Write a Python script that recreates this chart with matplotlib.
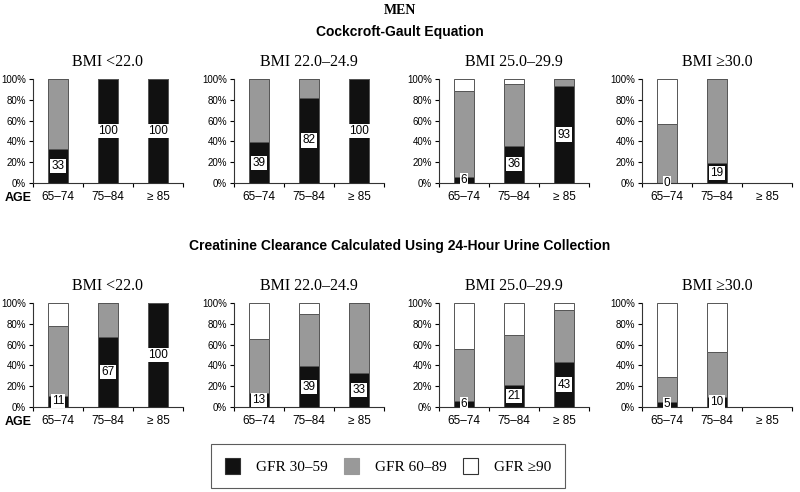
import matplotlib
matplotlib.use("Agg")
import matplotlib.pyplot as plt
from matplotlib.patches import Patch
import numpy as np

# ── Data (percent of patients per GFR band) ──────────────────────────────────
ages = ["65\u201374", "75\u201384", "\u2265 85"]
bmi_groups = ["BMI <22.0", "BMI 22.0\u201324.9", "BMI 25.0\u201329.9", "BMI \u226530.0"]

# Cockcroft-Gault equation
cg_black = [[33, 100, 100], [39, 82, 100], [6, 36, 93], [0, 19, np.nan]]
cg_gray = [[67, 0, 0], [61, 18, 0], [82, 59, 7], [57, 81, np.nan]]
cg_white = [[0, 0, 0], [0, 0, 0], [12, 5, 0], [43, 0, np.nan]]

# 24-hour urine collection
cc_black = [[11, 67, 100], [13, 39, 33], [6, 21, 43], [5, 10, np.nan]]
cc_gray = [[67, 33, 0], [52, 50, 67], [50, 48, 50], [24, 43, np.nan]]
cc_white = [[22, 0, 0], [35, 11, 0], [44, 31, 7], [71, 47, np.nan]]

W, H = 800, 492
BLACK, GRAY, WHITE = "#111111", "#999999", "#ffffff"
SERIF = ["Liberation Serif", "DejaVu Serif"]
SANS = ["Liberation Sans", "DejaVu Sans"]

fig = plt.figure(figsize=(W / 100, H / 100), dpi=100)


def px_axes(left, top, width, height):
    return fig.add_axes([left / W, 1 - (top + height) / H, width / W, height / H])


def draw_panel(ax, black, gray, white, title, first):
    x = np.arange(3)
    b = np.array(black, dtype=float)
    g = np.array(gray, dtype=float)
    w = np.array(white, dtype=float)
    kw = dict(width=0.4, edgecolor="#555555", linewidth=0.7)
    ax.bar(x, b, color=BLACK, **kw)
    ax.bar(x, g, bottom=b, color=GRAY, **kw)
    ax.bar(x, w, bottom=b + g, color=WHITE, **kw)
    for i, v in enumerate(b):
        if np.isnan(v):
            continue
        ax.text(i, v / 2, f"{int(v)}", ha="center", va="center", fontsize=8.5,
                family=SANS, color="black",
                bbox=dict(boxstyle="square,pad=0.1", fc="white", ec="none"))

    ax.set_xlim(-0.5, 2.5)
    ax.set_ylim(0, 100)
    ax.set_yticks(np.arange(0, 101, 20))
    ax.set_yticklabels([f"{t}%" for t in range(0, 101, 20)], family=SANS, fontsize=7)
    ax.set_xticks([-0.5, 0.5, 1.5, 2.5])
    ax.set_xticklabels([])
    ax.set_xticks(x, minor=True)
    ax.set_xticklabels(ages, minor=True, family=SANS, fontsize=8.5)
    ax.tick_params(axis="x", which="minor", length=0, pad=6)
    ax.tick_params(axis="x", which="major", length=3, width=0.8)
    ax.tick_params(axis="y", length=3, width=0.8, pad=2)
    for s in ("top", "right"):
        ax.spines[s].set_visible(False)
    for s in ("left", "bottom"):
        ax.spines[s].set_linewidth(0.8)
        ax.spines[s].set_color("#333333")
    ax.set_title(title, family=SERIF, fontsize=11.5, pad=9)
    if first:
        ax.text(-0.19, -0.14, "AGE", transform=ax.transAxes, fontsize=9,
                fontweight="bold", family=SANS, ha="left", va="center")


lefts = [33, 234, 439, 642]
for j in range(4):
    ax = px_axes(lefts[j], 79, 150, 104)
    draw_panel(ax, cg_black[j], cg_gray[j], cg_white[j], bmi_groups[j], j == 0)
    ax = px_axes(lefts[j], 303, 150, 104)
    draw_panel(ax, cc_black[j], cc_gray[j], cc_white[j], bmi_groups[j], j == 0)

fig.text(0.5, 1 - 10 / H, "MEN", ha="center", va="center", family=SERIF,
         fontsize=10, fontweight="bold")
fig.text(0.5, 1 - 32 / H, "Cockcroft-Gault Equation", ha="center", va="center",
         family=SANS, fontsize=10, fontweight="bold")
fig.text(0.5, 1 - 246 / H, "Creatinine Clearance Calculated Using 24-Hour Urine Collection",
         ha="center", va="center", family=SANS, fontsize=10, fontweight="bold")

handles = [Patch(fc=BLACK, ec="#333333", lw=0.8, label="GFR 30\u201359"),
           Patch(fc=GRAY, ec="#999999", lw=0.8, label="GFR 60\u201389"),
           Patch(fc=WHITE, ec="#333333", lw=0.8, label="GFR \u226590")]
leg = fig.legend(handles=handles, loc="center", bbox_to_anchor=(388 / W, 1 - 466 / H),
                 ncol=3, frameon=True, fancybox=False, edgecolor="#333333",
                 prop=dict(family=SERIF, size=11), handlelength=1.0, handleheight=1.2,
                 handletextpad=1.0, columnspacing=1.1, borderpad=0.9, borderaxespad=0)
leg.get_frame().set_linewidth(0.8)

fig.savefig("out.png", dpi=100)
